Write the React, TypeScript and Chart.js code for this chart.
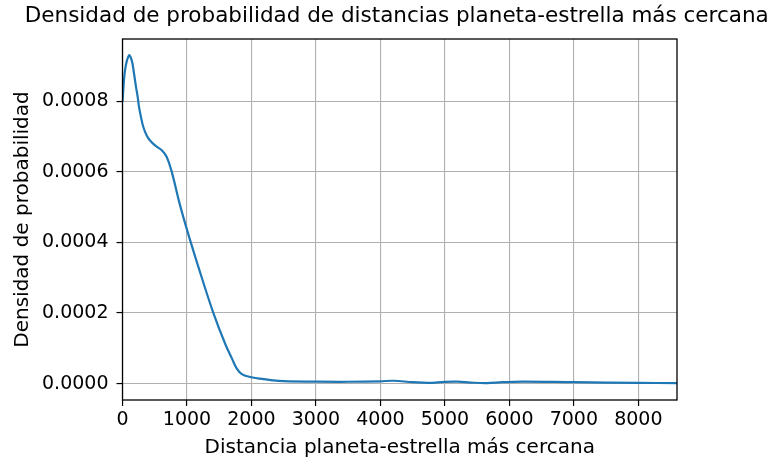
import React, { useEffect, useRef } from "react";
import { Chart, registerables } from "chart.js";

Chart.register(...registerables);

const TITLE = "Densidad de probabilidad de distancias planeta-estrella más cercana";
const X_LABEL = "Distancia planeta-estrella más cercana";
const Y_LABEL = "Densidad de probabilidad";

const distances = [
  0, 39, 101, 143, 179, 210, 236, 256, 287, 323, 375, 427, 505, 609, 686, 764,
  893, 1059, 1230, 1410, 1592, 1700, 1773, 1850, 1980, 2100, 2300, 2500, 3000,
  3500, 4000, 4200, 4500, 4750, 5000, 5200, 5400, 5650, 5900, 6200, 7000, 8000,
  8600,
];
const densities = [
  0.000798, 0.000887, 0.00093, 0.000916, 0.000878, 0.00084, 0.000812, 0.000784,
  0.000755, 0.000727, 0.000703, 0.000689, 0.000675, 0.000661, 0.000642, 0.0006,
  0.000505, 0.0004, 0.0003, 0.0002, 0.000113, 0.00007, 0.0000425, 0.000027,
  0.0000187, 0.000015, 0.00001, 0.0000068, 0.0000055, 0.0000052, 0.0000065,
  0.000008, 0.000004, 0.000002, 0.000005, 0.0000055, 0.000003, 0.0000015,
  0.000004, 0.0000055, 0.000004, 0.000002, 0.0000015,
];

const xTicks = [0, 1000, 2000, 3000, 4000, 5000, 6000, 7000, 8000];
const yTicks = [0, 0.0002, 0.0004, 0.0006, 0.0008];
const X_MIN = 0;
const X_MAX = 8600;
const Y_MIN = -0.0000465;
const Y_MAX = 0.0009765;

const FONT = "'DejaVu Sans', sans-serif";

export default function App() {
  const ref = useRef<HTMLCanvasElement | null>(null);
  useEffect(() => {
    if (!ref.current) return;
    const framePlugin = {
      id: "frame",
      afterDraw(chart: any) {
        const { ctx, chartArea } = chart;
        ctx.save();
        ctx.strokeStyle = "#000";
        ctx.lineWidth = 1.3;
        ctx.strokeRect(chartArea.left, chartArea.top, chartArea.right - chartArea.left, chartArea.bottom - chartArea.top);
        ctx.fillStyle = "#000";
        ctx.font = `21.5px ${FONT}`;
        ctx.textAlign = "center";
        ctx.textBaseline = "alphabetic";
        ctx.fillText(TITLE, (chartArea.left + chartArea.right) / 2 - 3, 22);
        ctx.restore();
      },
    };
    const chart = new Chart(ref.current, {
      type: "line",
      data: {
        datasets: [
          {
            data: distances.map((d, i) => ({ x: d, y: densities[i] })),
            borderColor: "#1f77b4",
            borderWidth: 2.2,
            pointRadius: 0,
            tension: 0.4,
            fill: false,
          },
        ],
      },
      options: {
        animation: false,
        responsive: false,
        devicePixelRatio: 1,
        layout: { padding: { top: 39, right: 97, bottom: 0, left: 0 } },
        plugins: { legend: { display: false }, title: { display: false }, tooltip: { enabled: false } },
        scales: {
          x: {
            type: "linear",
            min: X_MIN,
            max: X_MAX,
            afterBuildTicks: (scale: any) => {
              scale.ticks = xTicks.map((v) => ({ value: v }));
            },
            afterFit: (scale: any) => {
              scale.height = 60;
            },
            grid: { color: "#b0b0b0", lineWidth: 1.1, tickColor: "#000", tickLength: 6, tickWidth: 1.2 },
            border: { display: false },
            ticks: {
              color: "#000",
              font: { family: FONT, size: 19 },
              padding: 3,
              maxRotation: 0,
              autoSkip: false,
              callback: (v: any) => String(v),
            },
            title: { display: true, text: X_LABEL, color: "#000", font: { family: FONT, size: 20 }, padding: { top: 0, bottom: 0 } },
          },
          y: {
            type: "linear",
            min: Y_MIN,
            max: Y_MAX,
            afterBuildTicks: (scale: any) => {
              scale.ticks = yTicks.map((v) => ({ value: v }));
            },
            afterFit: (scale: any) => {
              scale.width = 122.5;
            },
            grid: { color: "#b0b0b0", lineWidth: 1.1, tickColor: "#000", tickLength: 6, tickWidth: 1.2 },
            border: { display: false },
            ticks: {
              color: "#000",
              font: { family: FONT, size: 19 },
              padding: 8,
              autoSkip: false,
              callback: (v: any) => Number(v).toFixed(4),
            },
            title: { display: true, text: Y_LABEL, color: "#000", font: { family: FONT, size: 20 }, padding: { top: 11, bottom: 0 } },
          },
        },
      },
      plugins: [framePlugin],
    });
    return () => chart.destroy();
  }, []);
  return (
    <div style={{ position: "absolute", left: 0, top: 0, width: 774, height: 460, background: "#fff" }}>
      <canvas ref={ref} width={774} height={460} />
    </div>
  );
}
